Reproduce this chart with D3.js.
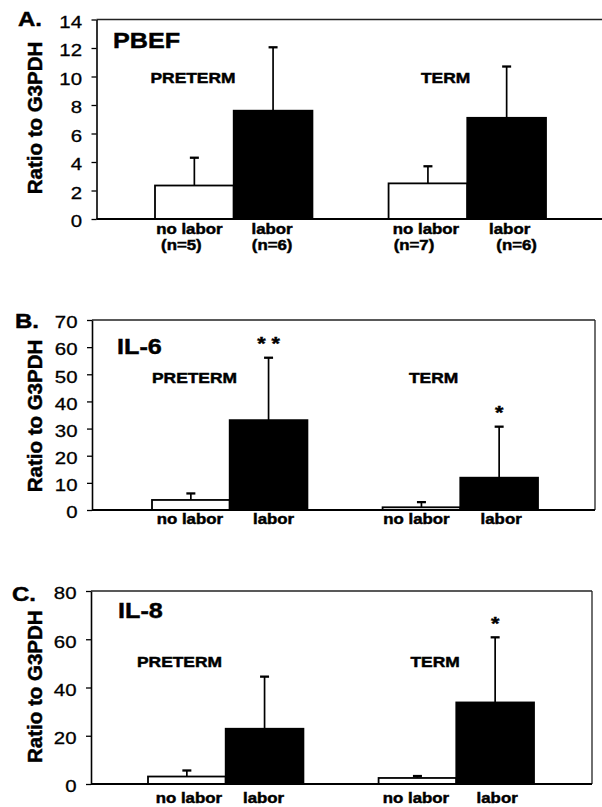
<!DOCTYPE html>
<html>
<head>
<meta charset="utf-8">
<script src="https://cdn.jsdelivr.net/npm/d3@7"></script>
<style>
  html, body { margin: 0; padding: 0; background: #fff; }
  svg { display: block; }
  text { font-family: "Liberation Sans", Arial, Helvetica, sans-serif; fill: #000; }
  text.heavy { stroke: #000; stroke-width: 0.45px; }
</style>
</head>
<body>
<svg id="chart" width="602" height="807"></svg>
<script>
// ---------------- data ----------------
const groups = ["PRETERM", "TERM"];
const conditions = ["no labor", "labor"];
const panelLetters = ["A.", "B.", "C."];
const markers = ["PBEF", "IL-6", "IL-8"];
const yTitle = "Ratio to G3PDH";

const yTicksA = [0, 2, 4, 6, 8, 10, 12, 14];
const yTicksB = [0, 10, 20, 30, 40, 50, 60, 70];
const yTicksC = [0, 20, 40, 60, 80];

// order: PRETERM no labor, PRETERM labor, TERM no labor, TERM labor
const pbefMean  = [2.35, 7.6, 2.5, 7.1];
const pbefUpper = [4.3, 12.05, 3.7, 10.7];
const pbefN     = ["(n=5)", "(n=6)", "(n=7)", "(n=6)"];
const pbefSig   = ["", "", "", ""];

const il6Mean  = [3.7, 33.1, 1.0, 11.9];
const il6Upper = [6.1, 56.1, 2.9, 30.7];
const il6Sig   = ["", "* *", "", "*"];

const il8Mean  = [3.1, 22.9, 2.5, 33.8];
const il8Upper = [5.6, 44.5, 3.3, 60.8];
const il8Sig   = ["", "", "", "*"];

// ---------------- layout ----------------
const panels = [
  { letter: panelLetters[0], marker: markers[0], ticks: yTicksA, mean: pbefMean, upper: pbefUpper, sig: pbefSig, nLab: pbefN,
    x0: 96.5, x1: 602, y0: 19.5, yz: 219, barL: 155, barR: 546, rightBorder: false,
    letterPos: [18, 26], markerPos: [113, 48], groupDx: [38, 57], groupY: 83,
    catY: 234, catDx: [-5, -1, -2, 3], nY: 250, nDx: [-13, -1, -14, 10], titleY: 118 },
  { letter: panelLetters[1], marker: markers[1], ticks: yTicksB, mean: il6Mean, upper: il6Upper, sig: il6Sig, nLab: null,
    x0: 92, x1: 595, y0: 320, yz: 510, barL: 152, barR: 538, rightBorder: true,
    letterPos: [15, 328], markerPos: [117, 354], groupDx: [42.5, 51], groupY: 383,
    catY: 524, catDx: [-1, 5, -5, 2], titleY: 416 },
  { letter: panelLetters[2], marker: markers[2], ticks: yTicksC, mean: il8Mean, upper: il8Upper, sig: il8Sig, nLab: null,
    x0: 91, x1: 592, y0: 591, yz: 784, barL: 148, barR: 534, rightBorder: true,
    letterPos: [12, 601], markerPos: [118, 618], groupDx: [31.5, 56.5], groupY: 667,
    catY: 803, catDx: [2, -1, -1.5, 2], titleY: 686.7 }
];

const svg = d3.select("#chart");

function stretchedText(g, str, x, y, size, weight, anchor, sx) {
  return g.append("text")
    .attr("class", "heavy")
    .attr("transform", `translate(${x},${y}) scale(${sx},1)`)
    .attr("text-anchor", anchor)
    .attr("font-size", size)
    .attr("font-weight", weight)
    .text(str);
}

panels.forEach(p => {
  const g = svg.append("g");
  const yMax = p.ticks[p.ticks.length - 1];
  const y = d3.scaleLinear().domain([0, yMax]).range([p.yz, p.y0]);
  const xG = d3.scaleBand().domain(groups).range([p.barL, p.barR]).paddingInner(0.326).paddingOuter(0);
  const xC = d3.scaleBand().domain(conditions).range([0, xG.bandwidth()]).padding(0);

  const rows = [];
  groups.forEach((gr, gi) => conditions.forEach((c, ci) => {
    const i = gi * 2 + ci;
    rows.push({ group: gr, cond: c, ci, i, mean: p.mean[i], upper: p.upper[i], sig: p.sig[i] });
  }));

  // frame: top & right lines
  g.append("line").attr("x1", p.x0).attr("x2", p.x1).attr("y1", y(yMax)).attr("y2", y(yMax))
    .attr("stroke", "#222").attr("stroke-width", 1.3);
  if (p.rightBorder) {
    g.append("line").attr("x1", p.x1).attr("x2", p.x1).attr("y1", y(yMax)).attr("y2", y(0))
      .attr("stroke", "#222").attr("stroke-width", 1.3);
  }

  // error bars (upper only)
  const errG = g.append("g");
  rows.forEach(d => {
    const cx = xG(d.group) + xC(d.cond) + xC.bandwidth() / 2;
    errG.append("line").attr("x1", cx).attr("x2", cx).attr("y1", y(d.mean)).attr("y2", y(d.upper))
      .attr("stroke", "#000").attr("stroke-width", 1.7);
    errG.append("line").attr("x1", cx - 4.5).attr("x2", cx + 4.5).attr("y1", y(d.upper)).attr("y2", y(d.upper))
      .attr("stroke", "#000").attr("stroke-width", 2.3);
  });

  // bars
  g.selectAll("rect.bar").data(rows).enter().append("rect")
    .attr("class", "bar")
    .attr("x", d => xG(d.group) + xC(d.cond))
    .attr("width", xC.bandwidth())
    .attr("y", d => y(d.mean))
    .attr("height", d => y(0) - y(d.mean))
    .attr("fill", d => d.ci === 0 ? "#fff" : "#000")
    .attr("stroke", "#000")
    .attr("stroke-width", 1.8);

  // bottom axis line
  g.append("line").attr("x1", p.x0).attr("x2", p.x1).attr("y1", y(0)).attr("y2", y(0))
    .attr("stroke", "#000").attr("stroke-width", 2);

  // y axis
  const ax = g.append("g").attr("transform", `translate(${p.x0},0)`)
    .call(d3.axisLeft(y).tickValues(p.ticks).tickSize(5).tickSizeOuter(0).tickFormat(d3.format("d")));
  ax.select(".domain").attr("stroke", "#000").attr("stroke-width", 1.6);
  ax.selectAll(".tick line").attr("stroke", "#000").attr("stroke-width", 1.3);
  ax.selectAll(".tick text")
    .attr("x", 0).attr("dy", "0.46em")
    .attr("transform", "translate(-14.5,0) scale(1.2,1)")
    .attr("font-size", 17)
    .attr("font-family", "'Liberation Sans', Arial, Helvetica, sans-serif")
    .attr("fill", "#000")
    .attr("stroke", "#000").attr("stroke-width", 0.3);

  // significance stars
  rows.filter(d => d.sig).forEach(d => {
    const cx = xG(d.group) + xC(d.cond) + xC.bandwidth() / 2;
    stretchedText(g, d.sig, cx, y(d.upper) - 7.5, 18, "bold", "middle", 1.2);
  });

  // panel letter & marker name
  stretchedText(g, p.letter, p.letterPos[0], p.letterPos[1], 20, "bold", "start", 1.2);
  stretchedText(g, p.marker, p.markerPos[0], p.markerPos[1], 22.5, "bold", "start", 1.12);

  // group labels
  groups.forEach((gr, gi) => {
    stretchedText(g, gr, xG(gr) + p.groupDx[gi], p.groupY, 14.5, "bold", "middle", 1.2);
  });

  // category labels
  rows.forEach(d => {
    const cx = xG(d.group) + xC(d.cond) + xC.bandwidth() / 2;
    stretchedText(g, d.cond, cx + p.catDx[d.i], p.catY, 14, "bold", "middle", 1.2);
    if (p.nLab) stretchedText(g, p.nLab[d.i], cx + p.nDx[d.i], p.nY, 14, "bold", "middle", 1.2);
  });

  // y title
  g.append("text")
    .attr("class", "heavy")
    .attr("transform", `translate(42,${p.titleY}) rotate(-90)`)
    .attr("text-anchor", "middle")
    .attr("font-size", 20.5)
    .attr("font-weight", "bold")
    .text(yTitle);
});
</script>
</body>
</html>
